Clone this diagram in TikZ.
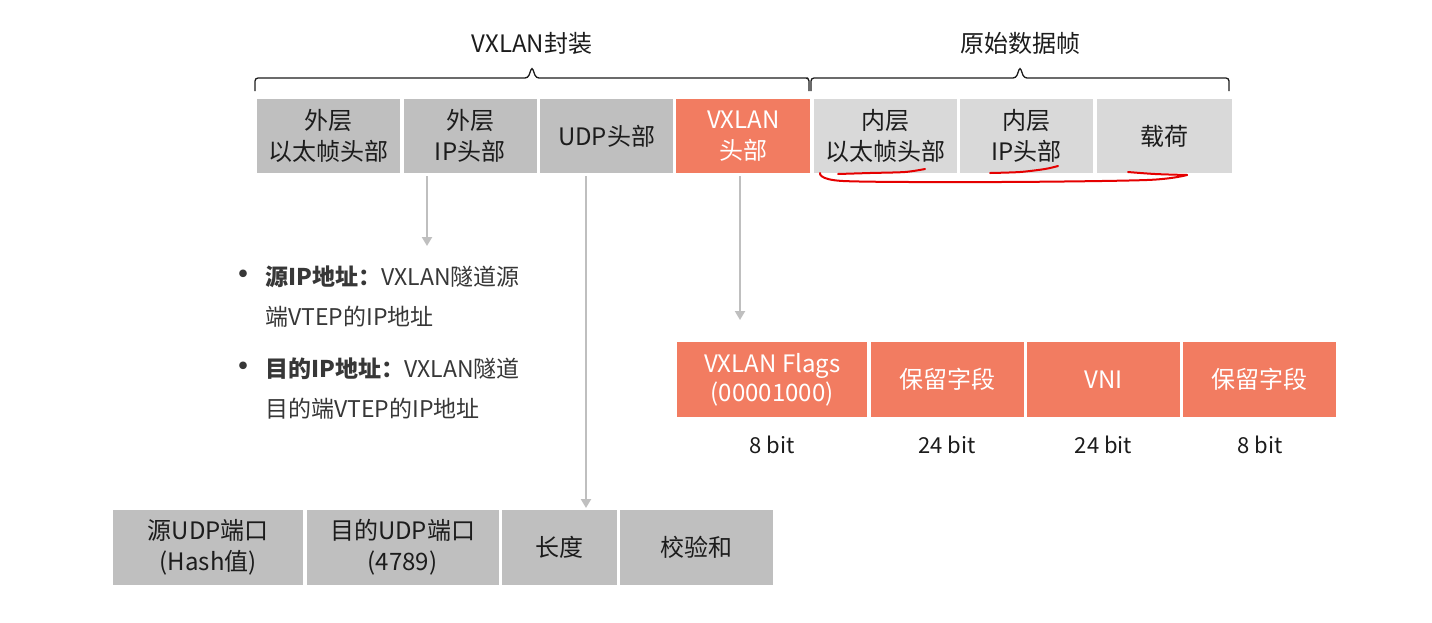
\documentclass[tikz,border=0pt]{standalone}
\usepackage{fontspec}
\setmainfont{Noto Sans CJK SC}
\usetikzlibrary{positioning}
\usetikzlibrary{arrows.meta}
\definecolor{boxgray}{RGB}{191,191,191}
\definecolor{boxlight}{RGB}{217,217,217}
\definecolor{vxorange}{RGB}{242,124,97}
\definecolor{inkdark}{RGB}{28,28,28}
\definecolor{itemgray}{RGB}{55,55,55}
\newcommand{\boxfont}{\fontsize{24}{31}\selectfont}
\tikzset{
  hdr/.style={rectangle,fill=boxgray,inner sep=0pt,minimum height=74pt,align=center,font=\boxfont,text=inkdark},
  hdrlight/.style={hdr,fill=boxlight},
  hdrvx/.style={hdr,fill=vxorange,text=white},
  fld/.style={rectangle,fill=vxorange,inner sep=0pt,minimum height=75pt,align=center,font=\fontsize{24}{29}\selectfont,text=white},
  udpf/.style={hdr,minimum height=75pt},
  bitlbl/.style={inner sep=0pt,font=\fontsize{22}{26}\selectfont,text=inkdark},
  ttl/.style={inner sep=0pt,font=\fontsize{24}{28}\selectfont,text=inkdark},
  item/.style={inner sep=0pt,align=left,font=\fontsize{23}{40}\selectfont,text=itemgray},
  dotitem/.style={inner sep=0pt,font=\fontsize{36}{36}\selectfont,text=itemgray},
  brk/.style={draw=inkdark,line width=1.3pt,rounded corners=3pt},
  arw/.style={draw=boxgray,line width=2pt,-{Triangle[width=10pt,length=9pt]}},
  redink/.style={draw=red!90!black,line width=2pt,line cap=round,smooth}
}

\begin{document}
\begin{tikzpicture}[x=1pt,y=-1pt]
\useasboundingbox (0,0) rectangle (1432,622);
\fill[white] (0,0) rectangle (1432,622);
\node[ttl] (enc) at (532,43) {VXLAN封装};
\node[ttl] (orig) at (1020,43) {原始数据帧};
\draw[brk] (255,91) -- (255,78) -- (528,78) -- (532,67) -- (536,78) -- (805,78) -- (809,78) -- (809,91);
\draw[brk] (811,91) -- (811,78) -- (1016,78) -- (1020,67) -- (1024,78) -- (1229,78) -- (1229,91);

\node[hdr,anchor=north west,minimum width=143pt] (oeth) at (257,99) {外层\\以太帧头部};
\node[hdr,minimum width=133pt,right=3pt of oeth] (oip) {外层\\IP头部};
\node[hdr,minimum width=133pt,right=3pt of oip] (udp) {UDP头部};
\node[hdrvx,minimum width=134pt,right=3pt of udp] (vx) {VXLAN\\头部};
\node[hdrlight,minimum width=143pt,right=3pt of vx] (ieth) {内层\\以太帧头部};
\node[hdrlight,minimum width=133pt,right=3pt of ieth] (iip) {内层\\IP头部};
\node[hdrlight,minimum width=135pt,right=3pt of iip] (pay) {载荷};

\draw[redink] plot coordinates {(838,174) (870,173) (905,172) (925,169)};
\draw[redink] plot coordinates {(990,173) (1020,172) (1045,169) (1058,166)};
\draw[redink] plot coordinates {(820,173) (843,181) (1000,182) (1147,180) (1187,175)};
\draw[redink] plot coordinates {(1128,172) (1155,174) (1187,175)};

\node[fld,anchor=north west,minimum width=190pt] (flags) at (677,342) {VXLAN Flags\\(00001000)};
\node[fld,minimum width=153pt,right=3pt of flags] (resa) {保留字段};
\node[fld,minimum width=153pt,right=3pt of resa] (vni) {VNI};
\node[fld,minimum width=153pt,right=3pt of vni] (resb) {保留字段};
\node[bitlbl,below=18pt of flags] (bflags) {8 bit};
\node[bitlbl,below=18pt of resa] (bresa) {24 bit};
\node[bitlbl,below=18pt of vni] (bvni) {24 bit};
\node[bitlbl,below=18pt of resb] (bresb) {8 bit};

\node[udpf,anchor=north west,minimum width=190pt] (sport) at (113,510) {源UDP端口\\(Hash值)};
\node[udpf,minimum width=192pt,right=3pt of sport] (dport) {目的UDP端口\\(4789)};
\node[udpf,minimum width=115pt,right=3pt of dport] (len) {长度};
\node[udpf,minimum width=153pt,right=3pt of len] (csum) {校验和};

\node[dotitem] (dota) at (243,279) {•};
\node[item,anchor=north west] (srcip) at (265,266) {\textbf{源IP地址：}VXLAN隧道源\\端VTEP的IP地址};
\node[dotitem] (dotb) at (243,371) {•};
\node[item,anchor=north west] (dstip) at (265,358) {\textbf{目的IP地址：}VXLAN隧道\\目的端VTEP的IP地址};

\coordinate (ipend) at (427,246);
\coordinate (udpx) at (586,0);
\coordinate (vxend) at (740,320);
\draw[arw] ([yshift=-3pt]oip.south -| ipend) -- (ipend);
\draw[arw] ([yshift=-3pt]udp.south -| udpx) -- ([yshift=2pt]len.north -| udpx);
\draw[arw] ([yshift=-3pt]vx.south -| vxend) -- (vxend);
\end{tikzpicture}
\end{document}
